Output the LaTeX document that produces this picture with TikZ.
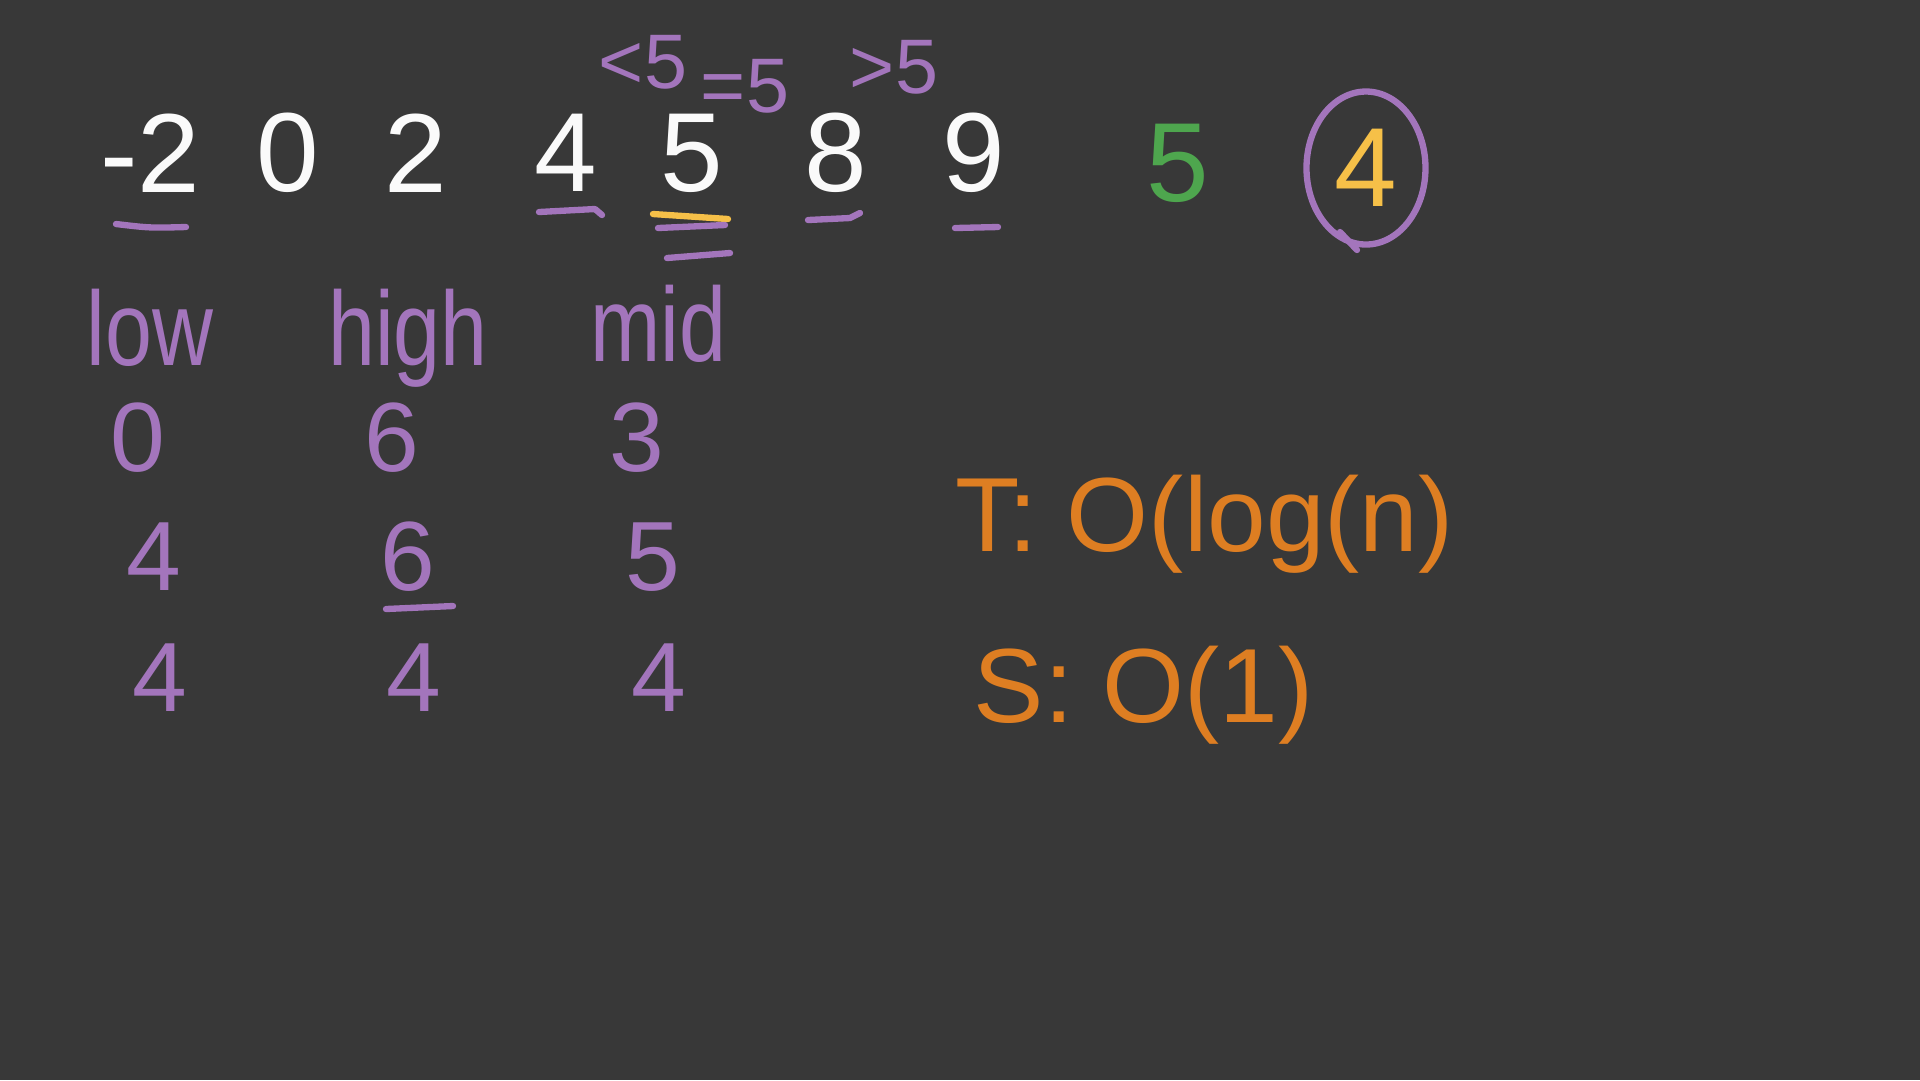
\documentclass[tikz,border=0pt]{standalone}
\usepackage{fontspec}
\setmainfont{Liberation Sans}
\usetikzlibrary{shapes.geometric}
\definecolor{board}{RGB}{56,56,56}
\definecolor{chalk}{RGB}{250,250,250}
\definecolor{lilac}{RGB}{163,117,188}
\definecolor{tangerine}{RGB}{222,126,34}
\definecolor{sun}{RGB}{246,192,72}
\definecolor{moss}{RGB}{78,166,78}
\tikzset{
  digit/.style={text=#1,font=\fontsize{32}{32}\selectfont,inner sep=0pt},
  digit/.default=chalk,
  hint/.style={text=lilac,font=\fontsize{22}{22}\selectfont,inner sep=0pt},
  head/.style={text=lilac,font=\fontsize{30}{30}\selectfont,inner sep=0pt,anchor=base,xscale=0.8},
  entry/.style={text=lilac,font=\fontsize{28}{28}\selectfont,inner sep=0pt},
  cost/.style={text=tangerine,font=\fontsize{30}{30}\selectfont,inner sep=0pt,anchor=base west},
  stroke/.style={draw=#1,line width=1.8pt,line cap=round,line join=round},
  stroke/.default=lilac,
}
\begin{document}
\begin{tikzpicture}[x=0.1mm,y=-0.1mm]
    \fill[board] (0,0) rectangle (1920,1080);
    \useasboundingbox (0,0) rectangle (1920,1080);
    % sorted array
    \foreach \v/\x [count=\i] in {-2/150,0/288,2/416,4/566,5/692,8/836,9/974}{
      \node[digit] (a\i) at (\x,153) {\v};
    }
    \node[hint] (lt) at (643,62) {<5};
    \node[hint] (eq) at (745,86) {=5};
    \node[hint] (gt) at (894,67) {>5};
    % pointers under the array
    \draw[stroke] (116,224) .. controls (150,228) .. (186,227);
    \draw[stroke] (539,212) -- (595,209) -- (602,215);
    \draw[stroke=sun] (653,214) -- (728,219);
    \draw[stroke] (658,228) -- (725,225);
    \draw[stroke] (667,258) -- (730,253);
    \draw[stroke] (808,220) -- (850,218) -- (860,213);
    \draw[stroke] (955,228) -- (998,227);
    % target and answer
    \node[digit=moss] (tgt) at (1178,163) {5};
    \node[digit=sun,ellipse,draw=lilac,line width=1.8pt,minimum width=11.9mm,minimum height=15.3mm] (ans) at (1366,168) {4};
    \draw[stroke] (1340,232) -- (1357,250);
    % trace table
    \node[head] (low) at (150,365) {low};
    \node[head] (high) at (408,365) {high};
    \node[head] (mid) at (658,361) {mid};
    \foreach \l/\h/\m/\y/\dx [count=\r] in {0/6/3/438/-12,4/6/5/557/4,4/4/4/678/10}{
      \node[entry] (lo\r) at (150+\dx,\y) {\l};
      \node[entry] (hi\r) at (404+\dx,\y) {\h};
      \node[entry] (md\r) at (649+\dx,\y) {\m};
    }
    \draw[stroke] (386,609) -- (453,606);
    % complexity
    \node[cost] (time) at (955,551) {T: O(log(n)};
    \node[cost] (space) at (973,722) {S: O(1)};
\end{tikzpicture}
\end{document}
